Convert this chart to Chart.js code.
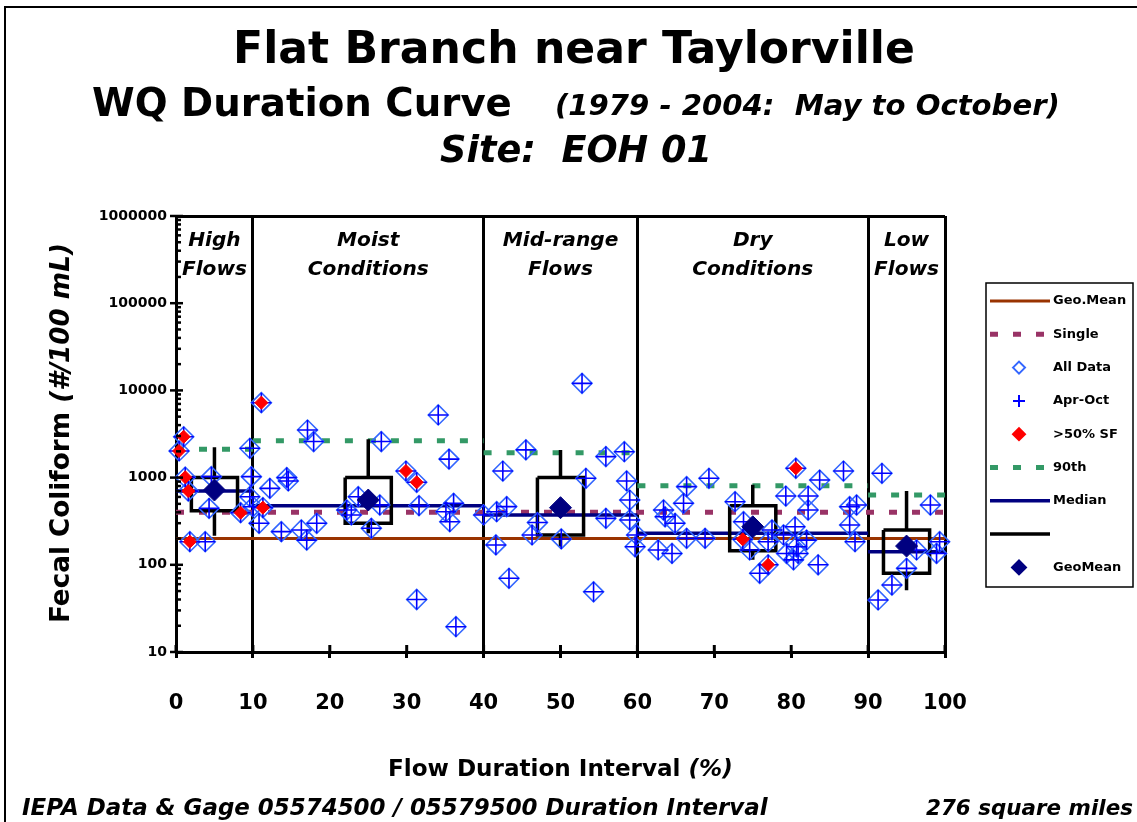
<!DOCTYPE html>
<html>
<head>
<meta charset="utf-8">
<title>Flat Branch near Taylorville - WQ Duration Curve</title>
<script src="https://cdn.jsdelivr.net/npm/chart.js@4.4.1/dist/chart.umd.min.js"></script>
<style>
  html, body { margin: 0; padding: 0; background: #fff; }
  #wrap { position: relative; width: 1137px; height: 822px; }
</style>
</head>
<body>
<div id="wrap"><canvas id="wqChart"></canvas></div>
<script>
// flow zones
const zoneEdges = [0, 10, 40, 60, 90, 100];
const zoneNames = [['High', 'Flows'], ['Moist', 'Conditions'], ['Mid-range', 'Flows'], ['Dry', 'Conditions'], ['Low', 'Flows']];
const xTicks = [0, 10, 20, 30, 40, 50, 60, 70, 80, 90, 100];
const yTicks = [10, 100, 1000, 10000, 100000, 1000000];

// standards (#/100 mL)
const geoMeanStd = 200;
const singleStd = 400;

// all samples: flow duration interval (%) and fecal coliform
const sampleX = [
  0.4, 1.0, 1.2, 1.6, 1.8, 3.8, 4.3, 4.6, 8.4, 9.6, 9.8, 9.6, 10.0,
  10.8, 11.1, 11.3, 12.2, 13.7, 14.4, 14.6, 16.3, 17.0, 17.1, 17.9, 18.3, 22.2, 22.8, 23.7, 25.4,
  26.5, 26.7, 29.9, 31.3, 31.6, 31.3, 34.1, 35.1, 35.5, 35.6, 36.1, 36.4, 40.0,
  41.6, 41.7, 42.5, 43.0, 43.3, 45.5, 46.3, 47.0, 50.1, 52.8, 53.3, 54.3, 55.9, 55.9, 58.3, 58.6,
  59.0, 59.0, 59.7, 59.9,
  62.7, 63.4, 63.6, 64.5, 64.9, 66.0, 66.4, 66.4, 68.8, 69.3, 72.7, 73.7, 73.8, 74.6, 75.9, 77.0,
  77.0, 77.5, 79.0, 79.3, 79.4, 80.3, 80.5, 80.6, 80.7, 80.9, 82.0, 82.2, 82.2, 83.5, 83.7, 86.8,
  87.6, 87.6, 88.3, 88.5,
  91.3, 91.8, 93.1, 95.0, 96.3, 98.1, 98.9, 99.3
];
const sampleY = [
  2020, 2940, 1010, 700, 184, 184, 444, 1025, 396, 2170, 1025, 604, 464,
  299, 7230, 452, 753, 240, 1000, 915, 251, 192, 3510, 2590, 299, 425, 373, 604, 262,
  485, 2590, 1190, 884, 477, 40, 5230, 406, 1630, 312, 507, 19.5, 373,
  169, 406, 1190, 465, 70, 2080, 220, 305, 198, 12050, 982, 49, 1740, 341, 1980, 915,
  553, 327, 161, 220,
  148, 425, 355, 135, 299, 507, 787, 201, 201, 982, 529, 196, 312, 148, 80, 100,
  184, 251, 220, 615, 135, 114, 273, 1280, 161, 135, 192, 615, 425, 100, 937, 1190,
  464, 286, 184, 485,
  39.5, 1120, 58.6, 91, 148, 485, 135, 184
];

// samples with >50% surface flow
const sfX = [0.4, 1.0, 1.2, 1.6, 1.8, 8.4, 11.1, 11.3, 29.9, 31.3, 73.7, 77.0, 80.6];
const sfY = [2020, 2940, 1010, 700, 184, 396, 7230, 452, 1190, 884, 196, 100, 1280];

// per-zone statistics
const zoneMid = [5, 25, 50, 75, 95];
const p90 = [2115, 2650, 1930, 807, 631];
const median = [702, 476, 373, 230, 141];
const zoneGeoMean = [720, 553, 452, 273, 164];
const q75 = [1000, 1000, 1000, 476, 250];
const q25 = [417, 299, 220, 145, 80];
const whiskerHi = [2230, 2750, 2075, 830, 700];
const whiskerLo = [215, 230, 161, 114, 51];

const FONT = '"DejaVu Sans", "Liberation Sans", sans-serif';
const BOX_HALF = 3;

const pts = (xs, ys) => xs.map((x, i) => ({x: x, y: ys[i]}));

// flat segment per zone, broken at zone edges
function zoneSteps(vals) {
  const out = [];
  vals.forEach((v, i) => {
    out.push({x: zoneEdges[i], y: v}, {x: zoneEdges[i + 1], y: v}, {x: zoneEdges[i + 1], y: null});
  });
  return out;
}

function boxPaths() {
  const out = [];
  zoneMid.forEach((c, i) => {
    const l = c - BOX_HALF, r = c + BOX_HALF;
    out.push({x: l, y: q75[i]}, {x: r, y: q75[i]}, {x: r, y: q25[i]}, {x: l, y: q25[i]}, {x: l, y: q75[i]}, {x: l, y: null});
    out.push({x: c, y: q75[i]}, {x: c, y: whiskerHi[i]}, {x: c, y: null});
    out.push({x: c, y: q25[i]}, {x: c, y: whiskerLo[i]}, {x: c, y: null});
  });
  return out;
}

const lineDs = (label, data, color, width, dash, order) => ({
  label, data, showLine: true, borderColor: color, borderWidth: width, borderDash: dash,
  pointRadius: 0, tension: 0, fill: false, spanGaps: false, order
});

const datasets = [
  lineDs('Geo.Mean', [{x: 0, y: geoMeanStd}, {x: 100, y: geoMeanStd}], '#993300', 3, [], 8),
  lineDs('Single', [{x: 0, y: singleStd}, {x: 100, y: singleStd}], '#993366', 5, [8, 15], 7),
  { label: 'All Data', data: pts(sampleX, sampleY), pointStyle: 'rectRot', pointRadius: 10,
    pointBorderColor: '#3366ff', pointBackgroundColor: 'rgba(0,0,0,0)', pointBorderWidth: 1.6, clip: false, order: 3 },
  { label: 'Apr-Oct', data: pts(sampleX, sampleY), pointStyle: 'cross', pointRadius: 10,
    pointBorderColor: '#0000ff', pointBorderWidth: 1.6, clip: false, order: 2 },
  { label: '>50% SF', data: pts(sfX, sfY), pointStyle: 'rectRot', pointRadius: 6.5,
    pointBorderColor: '#ff0000', pointBackgroundColor: '#ff0000', pointBorderWidth: 1, clip: false, order: 1 },
  lineDs('90th', zoneSteps(p90), '#339966', 5, [8, 15], 6),
  lineDs('Median', zoneSteps(median), '#000080', 3.5, [], 5),
  lineDs('', boxPaths(), '#000000', 3.5, [], 4),
  { label: 'GeoMean', data: pts(zoneMid, zoneGeoMean), pointStyle: 'rectRot', pointRadius: 11,
    pointBorderColor: '#000080', pointBackgroundColor: '#000080', pointBorderWidth: 1, clip: false, order: 0 }
];

// draw text runs scaled to fit a given width
function fitRuns(ctx, runs, x0, x1, y, baseline) {
  ctx.textAlign = 'left';
  ctx.textBaseline = baseline || 'alphabetic';
  const widthAt = s => runs.reduce((w, r) => { ctx.font = r[1] + ' ' + s + 'px ' + FONT; return w + ctx.measureText(r[0]).width; }, 0);
  const size = 100 * (x1 - x0) / widthAt(100);
  let x = x0;
  runs.forEach(r => {
    ctx.font = r[1] + ' ' + size + 'px ' + FONT;
    ctx.fillText(r[0], x, y);
    x += ctx.measureText(r[0]).width;
  });
}

const textLayer = {
  id: 'textLayer',
  afterDraw(chart) {
    const {ctx, chartArea: a, scales: {x, y}} = chart;
    ctx.save();
    ctx.strokeStyle = '#000';
    ctx.lineWidth = 2;
    ctx.beginPath(); ctx.moveTo(5, 822); ctx.lineTo(5, 7); ctx.lineTo(1137, 7); ctx.stroke();

    // inner tick marks
    ctx.lineWidth = 2.5;
    for (let i = 0; i < yTicks.length; i++) {
      const py = y.getPixelForValue(yTicks[i]);
      ctx.beginPath(); ctx.moveTo(a.left - 6, py); ctx.lineTo(a.left + 7, py); ctx.stroke();
      if (i < yTicks.length - 1) {
        for (let k = 2; k < 10; k++) {
          const pm = y.getPixelForValue(yTicks[i] * k);
          ctx.beginPath(); ctx.moveTo(a.left, pm); ctx.lineTo(a.left + 5, pm); ctx.stroke();
        }
      }
    }
    ctx.lineWidth = 3;
    xTicks.forEach(v => {
      const px = x.getPixelForValue(v);
      ctx.beginPath(); ctx.moveTo(px, a.bottom); ctx.lineTo(px, a.bottom - 7); ctx.stroke();
    });

    ctx.fillStyle = '#000';
    fitRuns(ctx, [['Flat Branch near Taylorville', 'bold']], 233, 915, 63);
    fitRuns(ctx, [['WQ Duration Curve', 'bold']], 92, 512, 116);
    fitRuns(ctx, [['(1979 - 2004:  May to October)', 'italic bold']], 555, 1060, 115);
    fitRuns(ctx, [['Site:  EOH 01', 'italic bold']], 440, 712, 162);
    fitRuns(ctx, [['Flow Duration Interval ', 'bold'], ['(%)', 'italic bold']], 388, 733, 776);
    fitRuns(ctx, [['IEPA Data & Gage 05574500 / 05579500 Duration Interval', 'italic bold']], 22, 768, 815);
    fitRuns(ctx, [['276 square miles', 'italic bold']], 926, 1133, 815);

    ctx.save();
    ctx.translate(62, 433);
    ctx.rotate(-Math.PI / 2);
    fitRuns(ctx, [['Fecal Coliform ', 'bold'], ['(#/100 mL)', 'italic bold']], -190, 190, 0, 'middle');
    ctx.restore();

    // zone names
    ctx.font = 'italic bold 20px ' + FONT;
    const zsize = 20 * 121 / ctx.measureText('Conditions').width;
    ctx.font = 'italic bold ' + zsize + 'px ' + FONT;
    ctx.textAlign = 'center';
    ctx.textBaseline = 'alphabetic';
    zoneNames.forEach((n, i) => {
      const cx = x.getPixelForValue((zoneEdges[i] + zoneEdges[i + 1]) / 2);
      ctx.fillText(n[0], cx, 246);
      ctx.fillText(n[1], cx, 275);
    });

    // legend
    const L = {left: 986, top: 283, right: 1133, bottom: 587, row0: 301, step: 33.3};
    ctx.lineWidth = 1.5;
    ctx.strokeRect(L.left, L.top, L.right - L.left, L.bottom - L.top);
    ctx.font = 'bold 13px ' + FONT;
    chart.data.datasets.forEach((ds, i) => {
      const ry = L.row0 + i * L.step;
      ctx.save();
      if (ds.showLine) {
        ctx.strokeStyle = ds.borderColor;
        ctx.lineWidth = ds.borderWidth;
        ctx.setLineDash(ds.borderDash || []);
        ctx.beginPath(); ctx.moveTo(990, ry); ctx.lineTo(1050, ry); ctx.stroke();
      } else {
        const cx = 1019, r = ds.label === 'GeoMean' ? 7 : 6;
        ctx.strokeStyle = ds.pointBorderColor;
        ctx.fillStyle = ds.pointBackgroundColor || 'rgba(0,0,0,0)';
        ctx.lineWidth = 2;
        ctx.beginPath();
        if (ds.pointStyle === 'cross') {
          ctx.moveTo(cx - r, ry); ctx.lineTo(cx + r, ry); ctx.moveTo(cx, ry - r); ctx.lineTo(cx, ry + r);
          ctx.stroke();
        } else {
          ctx.moveTo(cx - r, ry); ctx.lineTo(cx, ry - r); ctx.lineTo(cx + r, ry); ctx.lineTo(cx, ry + r); ctx.closePath();
          ctx.fill(); ctx.stroke();
        }
      }
      ctx.restore();
      ctx.fillStyle = '#000';
      ctx.textAlign = 'left';
      ctx.textBaseline = 'middle';
      ctx.fillText(ds.label, 1053, ry);
    });
    ctx.restore();
  }
};

new Chart(document.getElementById('wqChart'), {
  type: 'scatter',
  data: { datasets: datasets },
  options: {
    responsive: true,
    maintainAspectRatio: false,
    animation: false,
    events: [],
    layout: { padding: { top: 216, right: 192, left: 0, bottom: 0 } },
    plugins: { legend: { display: false }, tooltip: { enabled: false }, title: { display: false } },
    scales: {
      x: {
        type: 'linear', min: 0, max: 100,
        afterBuildTicks: s => { s.ticks = xTicks.map(v => ({value: v})); },
        afterFit: s => { s.height = 170; s.paddingLeft = 0; s.paddingRight = 0; },
        ticks: { color: '#000', padding: 33, font: { family: FONT, size: 21, weight: 'bold' } },
        grid: {
          color: c => (c.tick && zoneEdges.indexOf(c.tick.value) > 0) ? '#000' : 'rgba(0,0,0,0)',
          lineWidth: 3, drawTicks: true, tickLength: 6, tickColor: '#000', tickWidth: 3
        },
        border: { display: true, color: '#000', width: 3 }
      },
      y: {
        type: 'logarithmic', min: 10, max: 1000000,
        afterBuildTicks: s => { s.ticks = yTicks.map(v => ({value: v, major: true})); },
        afterFit: s => { s.width = 176; },
        ticks: { color: '#000', padding: 9, autoSkip: false, callback: v => String(v), font: { family: FONT, size: 14, weight: 'bold' } },
        grid: {
          color: c => (c.tick && c.tick.value === 1000000) ? '#000' : 'rgba(0,0,0,0)',
          lineWidth: 3, drawTicks: false
        },
        border: { display: true, color: '#000', width: 3 }
      }
    }
  },
  plugins: [textLayer]
});
</script>
</body>
</html>
